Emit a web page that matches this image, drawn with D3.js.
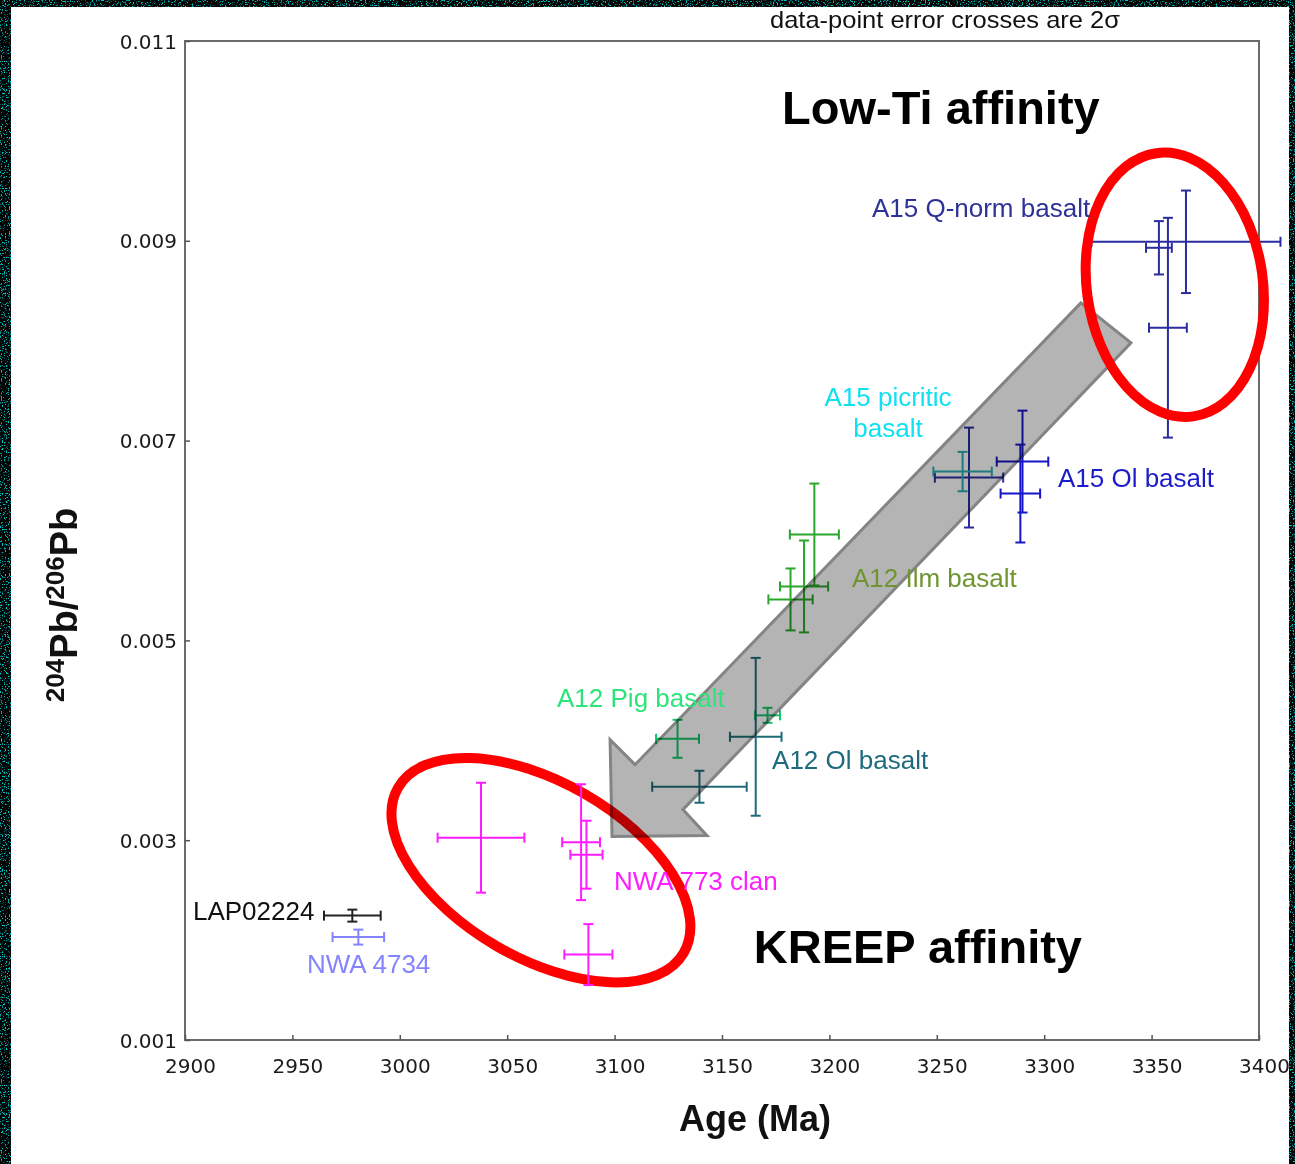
<!DOCTYPE html>
<html>
<head>
<meta charset="utf-8">
<script src="https://cdn.jsdelivr.net/npm/d3@7"></script>
<style>
  html, body { margin: 0; padding: 0; background: #000; }
  svg { display: block; }
  text { font-family: "Liberation Sans", Arial, sans-serif; }
</style>
</head>
<body>
<svg id="chart" width="1295" height="1164"></svg>
<script>
// ---- Pb isotope data: age (Ma) ± 2σ, 204Pb/206Pb ± 2σ ----
const a15QnormBasalt = [
  { age: 3366.0, ageErr: 44.0, pb: 0.00899, pbErr: 0.000513 },
  { age: 3353.4, ageErr: 6.0,  pb: 0.00893, pbErr: 0.000267 },
  { age: 3357.6, ageErr: 8.8,  pb: 0.00813, pbErr: 0.00110 },
  { age: 3265.0, ageErr: 15.9, pb: 0.00663, pbErr: 0.00050 }
];
const a15OlBasalt = [
  { age: 3289.9, ageErr: 12.0, pb: 0.00679, pbErr: 0.00051 },
  { age: 3288.9, ageErr: 9.2,  pb: 0.00647, pbErr: 0.00049 }
];
const a15PicriticBasalt = [
  { age: 3262.0, ageErr: 13.6, pb: 0.00669, pbErr: 0.000197 }
];
const a12IlmBasalt = [
  { age: 3193.0, ageErr: 11.4, pb: 0.00606, pbErr: 0.00051 },
  { age: 3188.2, ageErr: 11.2, pb: 0.00554, pbErr: 0.00046 },
  { age: 3181.9, ageErr: 10.3, pb: 0.00541, pbErr: 0.00031 }
];
const a12PigBasalt = [
  { age: 3129.3, ageErr: 10.0, pb: 0.004015, pbErr: 0.00019 },
  { age: 3171.2, ageErr: 5.8,  pb: 0.00425,  pbErr: 0.000075 }
];
const a12OlBasalt = [
  { age: 3165.7, ageErr: 12.0, pb: 0.004035, pbErr: 0.00079 },
  { age: 3139.5, ageErr: 22.0, pb: 0.003535, pbErr: 0.00016 }
];
const nwa773Clan = [
  { age: 3037.8, ageErr: 20.2, pb: 0.003025, pbErr: 0.00055 },
  { age: 3084.4, ageErr: 8.8,  pb: 0.00298,  pbErr: 0.00058 },
  { age: 3086.9, ageErr: 7.5,  pb: 0.002855, pbErr: 0.00034 },
  { age: 3087.8, ageErr: 11.2, pb: 0.001855, pbErr: 0.000305 }
];
const lap02224 = [
  { age: 2977.9, ageErr: 13.2, pb: 0.002245, pbErr: 0.00006 }
];
const nwa4734 = [
  { age: 2980.7, ageErr: 12.0, pb: 0.00203, pbErr: 0.000075 }
];

// axis ticks
const ageTicks = [2900, 2950, 3000, 3050, 3100, 3150, 3200, 3250, 3300, 3350, 3400];
const pbTicks = [0.001, 0.003, 0.005, 0.007, 0.009, 0.011];

// series names, their points and colours
const seriesNames = ["A15 Q-norm basalt", "A15 Ol basalt", "A15 picritic basalt", "A12 Ilm basalt",
                     "A12 Pig basalt", "A12 Ol basalt", "NWA 773 clan", "LAP02224", "NWA 4734"];
const seriesPoints = [a15QnormBasalt, a15OlBasalt, a15PicriticBasalt, a12IlmBasalt,
                      a12PigBasalt, a12OlBasalt, nwa773Clan, lap02224, nwa4734];
const seriesColors = ["#2b2ba0", "#1616c8", "#28aeb2", "#2aa62a",
                      "#16c46a", "#1e6b78", "#ff1cff", "#222222", "#8484ff"];

// label text, colours and anchor spots (data coordinates, left edge / vertical centre)
const labelLines = [["A15 Q-norm basalt"], ["A15 Ol basalt"], ["A15 picritic", "basalt"], ["A12 Ilm basalt"],
                    ["A12 Pig basalt"], ["A12 Ol basalt"], ["NWA 773 clan"], ["LAP02224"], ["NWA 4734"]];
const labelColors = ["#2e3196", "#1c1cc8", "#10e0f0", "#6f9530", "#2ee47a", "#1d6b7d", "#ff1cff", "#111111", "#8484ff"];
const labelSpots = [
  { age: 3219.8, pb: 0.009329, anchor: "start" },
  { age: 3306.4, pb: 0.006628, anchor: "start" },
  { age: 3227.3, pb: 0.007438, anchor: "middle" },
  { age: 3210.5, pb: 0.005627, anchor: "start" },
  { age: 3073.2, pb: 0.004427, anchor: "start" },
  { age: 3173.3, pb: 0.003806, anchor: "start" },
  { age: 3099.7, pb: 0.002596, anchor: "start" },
  { age: 2903.7, pb: 0.002296, anchor: "start" },
  { age: 2956.8, pb: 0.001765, anchor: "start" }
];

// trend arrow outline (data coordinates)
const arrowOutline = [
  [3317.1, 0.008379], [3340.4, 0.007978], [3131.8, 0.003306], [3143.0, 0.003046],
  [3098.8, 0.003036], [3097.9, 0.004007], [3109.5, 0.003756]
];
// highlight ellipses: centre, semi-axes (Ma, ratio) and tilt in degrees
const ellipses = [
  { age: 3065.7, pb: 0.002700, rAge: 76.8, rPb: 0.00088, tilt: 30, layer: "under" },
  { age: 3360.8, pb: 0.008560, rAge: 41.0, rPb: 0.00133, tilt: -8, layer: "over" }
];
const groupLabels = [
  { text: "Low-Ti affinity", age: 3251.9, pb: 0.01033 },
  { text: "KREEP affinity", age: 3241.2, pb: 0.001935 }
];

// ---- layout ----
const W = 1295, H = 1164;
const plot = { left: 185, right: 1259, top: 41, bottom: 1040 };
const svg = d3.select("#chart");

const x = d3.scaleLinear().domain([2900, 3400]).range([plot.left, plot.right]);
const y = d3.scaleLinear().domain([0.001, 0.011]).range([plot.bottom, plot.top]);

// speckled dark backdrop and white panel
const defs = svg.append("defs");
const speckle = defs.append("filter").attr("id", "speckle").attr("x", 0).attr("y", 0).attr("width", 1).attr("height", 1);
speckle.append("feTurbulence").attr("type", "fractalNoise").attr("baseFrequency", 0.75).attr("numOctaves", 2).attr("seed", 4).attr("result", "n");
speckle.append("feColorMatrix").attr("in", "n").attr("type", "matrix")
  .attr("values", "0 0 0 0 0  0 0 0 0 0.55  0 0 0 0 0.58  7 0 0 0 -3.9");
svg.append("rect").attr("width", W).attr("height", H).attr("fill", "#000");
svg.append("rect").attr("width", W).attr("height", H).attr("filter", "url(#speckle)");
svg.append("rect").attr("x", 11).attr("y", 7).attr("width", 1278).attr("height", H - 7).attr("fill", "#fff");

// lower ellipse sits beneath the arrow
const ellipseGeom = e => {
  const cx = x(e.age), cy = y(e.pb);
  const rx = x(e.age + e.rAge) - cx, ry = cy - y(e.pb + e.rPb);
  return { cx, cy, rx, ry };
};
function drawEllipse(e) {
  const p = ellipseGeom(e);
  svg.append("ellipse")
    .attr("cx", 0).attr("cy", 0).attr("rx", p.rx).attr("ry", p.ry)
    .attr("transform", `translate(${p.cx},${p.cy}) rotate(${e.tilt})`)
    .attr("fill", "none").attr("stroke", "#ff0000").attr("stroke-width", 10);
}
ellipses.filter(e => e.layer === "under").forEach(drawEllipse);

// frame
svg.append("rect")
  .attr("x", plot.left).attr("y", plot.top)
  .attr("width", plot.right - plot.left).attr("height", plot.bottom - plot.top)
  .attr("fill", "none").attr("stroke", "#6a6a6a").attr("stroke-width", 2);

// axes with inward ticks
const xAxis = svg.append("g").attr("transform", `translate(0,${plot.bottom})`)
  .call(d3.axisBottom(x).tickValues(ageTicks).tickFormat(d3.format("d")).tickSizeInner(-5).tickSizeOuter(0).tickPadding(0));
xAxis.select(".domain").remove();
xAxis.selectAll(".tick line").attr("stroke", "#555").attr("stroke-width", 1.5);
xAxis.selectAll(".tick text")
  .attr("y", 26).attr("dy", null).attr("dx", 5)
  .attr("dominant-baseline", "central")
  .style("font-family", "'DejaVu Sans', sans-serif").style("font-size", "20px").attr("fill", "#1a1a1a");

const yAxis = svg.append("g").attr("transform", `translate(${plot.left},0)`)
  .call(d3.axisLeft(y).tickValues(pbTicks).tickFormat(d3.format(".3f")).tickSizeInner(-5).tickSizeOuter(0).tickPadding(8));
yAxis.select(".domain").remove();
yAxis.selectAll(".tick line").attr("stroke", "#555").attr("stroke-width", 1.5);
yAxis.selectAll(".tick text")
  .attr("dy", null).attr("dominant-baseline", "central")
  .style("font-family", "'DejaVu Sans', sans-serif").style("font-size", "20px").attr("fill", "#1a1a1a");

// error crosses
const CAP = 5;
const series = seriesNames.map((name, i) => ({ name, points: seriesPoints[i], color: seriesColors[i] }));
const crossLayer = svg.append("g").attr("fill", "none").attr("stroke-width", 2);
series.forEach(s => {
  const g = crossLayer.append("g").attr("stroke", s.color);
  const pts = g.selectAll("g.pt").data(s.points).join("g").attr("class", "pt");
  // horizontal (age) bar with end caps
  pts.append("line")
    .attr("x1", d => x(d.age - d.ageErr)).attr("x2", d => x(d.age + d.ageErr))
    .attr("y1", d => y(d.pb)).attr("y2", d => y(d.pb));
  pts.append("line")
    .attr("x1", d => x(d.age - d.ageErr)).attr("x2", d => x(d.age - d.ageErr))
    .attr("y1", d => y(d.pb) - CAP).attr("y2", d => y(d.pb) + CAP);
  pts.append("line")
    .attr("x1", d => x(d.age + d.ageErr)).attr("x2", d => x(d.age + d.ageErr))
    .attr("y1", d => y(d.pb) - CAP).attr("y2", d => y(d.pb) + CAP);
  // vertical (ratio) bar with end caps
  pts.append("line")
    .attr("x1", d => x(d.age)).attr("x2", d => x(d.age))
    .attr("y1", d => y(d.pb - d.pbErr)).attr("y2", d => y(d.pb + d.pbErr));
  pts.append("line")
    .attr("x1", d => x(d.age) - CAP).attr("x2", d => x(d.age) + CAP)
    .attr("y1", d => y(d.pb - d.pbErr)).attr("y2", d => y(d.pb - d.pbErr));
  pts.append("line")
    .attr("x1", d => x(d.age) - CAP).attr("x2", d => x(d.age) + CAP)
    .attr("y1", d => y(d.pb + d.pbErr)).attr("y2", d => y(d.pb + d.pbErr));
});

// grey trend arrow, multiplied over whatever lies beneath it
svg.append("path")
  .attr("d", d3.line().x(d => x(d[0])).y(d => y(d[1]))(arrowOutline) + "Z")
  .attr("fill", "#b4b4b4").attr("stroke", "#848484").attr("stroke-width", 3)
  .attr("stroke-linejoin", "miter")
  .style("mix-blend-mode", "multiply");

// upper ellipse drawn over the arrow tail
ellipses.filter(e => e.layer === "over").forEach(drawEllipse);

// series labels
const labelLayer = svg.append("g").style("font-size", "26px");
labelLines.forEach((lines, i) => {
  const spot = labelSpots[i];
  const t = labelLayer.append("text")
    .attr("x", x(spot.age)).attr("y", y(spot.pb))
    .attr("text-anchor", spot.anchor)
    .attr("dominant-baseline", "central")
    .attr("fill", labelColors[i]);
  lines.forEach((line, j) => {
    t.append("tspan").attr("x", x(spot.age)).attr("dy", j === 0 ? 0 : 31).text(line);
  });
});

// affinity group labels
svg.selectAll("text.group").data(groupLabels).join("text")
  .attr("class", "group")
  .attr("x", d => x(d.age)).attr("y", d => y(d.pb))
  .attr("text-anchor", "middle").attr("dominant-baseline", "central")
  .style("font-size", "47px").style("font-weight", "bold").attr("fill", "#000")
  .text(d => d.text);

// note above the frame
svg.append("text")
  .attr("x", 770).attr("y", 28)
  .attr("textLength", 350).attr("lengthAdjust", "spacingAndGlyphs")
  .style("font-family", "'Liberation Sans Narrow', 'Liberation Sans', Arial, sans-serif")
  .style("font-size", "24px").attr("fill", "#111")
  .text("data-point error crosses are 2σ");

// axis titles
svg.append("text")
  .attr("x", (plot.left + plot.right) / 2 + 33).attr("y", 1118)
  .attr("text-anchor", "middle").attr("dominant-baseline", "central")
  .style("font-size", "36px").style("font-weight", "bold").attr("fill", "#111")
  .text("Age (Ma)");

const yTitle = svg.append("text")
  .attr("transform", "translate(77,605) rotate(-90)")
  .attr("text-anchor", "middle")
  .style("font-weight", "bold").attr("fill", "#111");
yTitle.append("tspan").attr("dy", -13).style("font-size", "26px").text("204");
yTitle.append("tspan").attr("dy", 13).style("font-size", "38px").text("Pb/");
yTitle.append("tspan").attr("dy", -13).style("font-size", "26px").text("206");
yTitle.append("tspan").attr("dy", 13).style("font-size", "38px").text("Pb");
</script>
</body>
</html>
